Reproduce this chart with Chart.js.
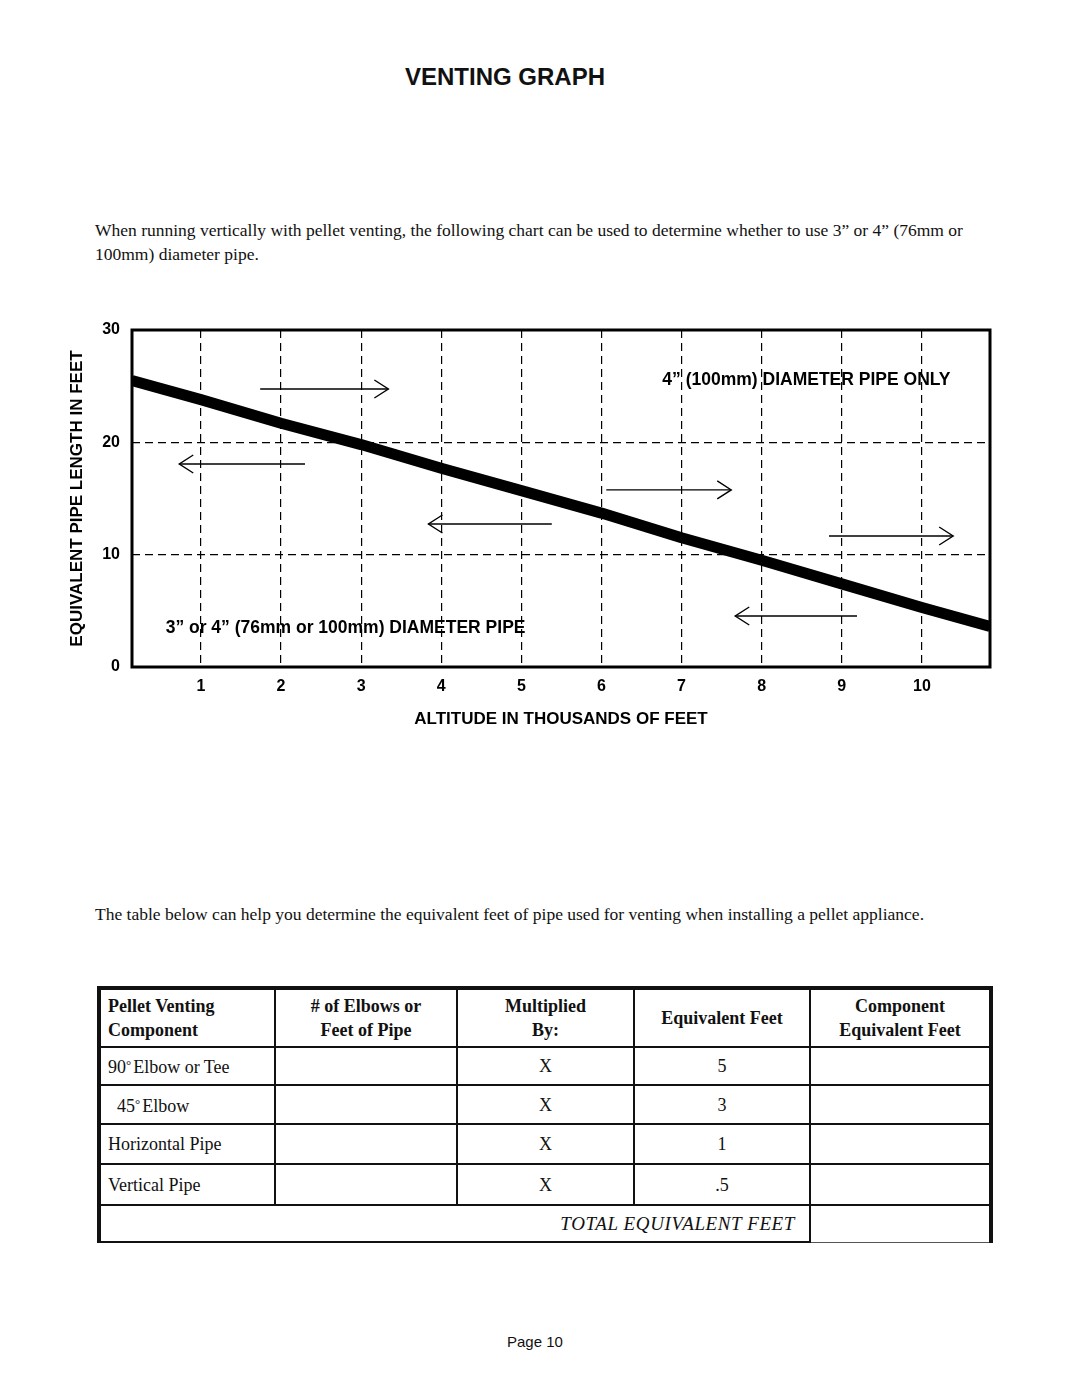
<!DOCTYPE html>
<html>
<head>
<meta charset="utf-8">
<script src="https://cdn.jsdelivr.net/npm/chart.js@4.4.1/dist/chart.umd.min.js"></script>
<style>
html,body{margin:0;padding:0;background:#fff;}
body{width:1080px;height:1397px;position:relative;overflow:hidden;color:#111;}
.abs{position:absolute;white-space:nowrap;}
#title{left:405px;top:62px;font:bold 24px "Liberation Sans",Arial,sans-serif;line-height:30px;}
.para{font:17.5px "Liberation Serif","Times New Roman",serif;line-height:24px;}
#p1{left:95px;top:218px;}
#p2{left:95px;top:902px;}
#footer{left:507px;top:1333px;font:15px "Liberation Sans",Arial,sans-serif;line-height:18px;}
#chartWrap{position:absolute;left:40px;top:300px;width:960px;height:460px;}
#tbl{position:absolute;left:97px;top:986px;border-collapse:collapse;table-layout:fixed;width:892px;font:18px "Liberation Serif","Times New Roman",serif;color:#111;}
#tbl td{border:2.5px solid #111;padding:0;text-align:center;vertical-align:middle;line-height:24px;white-space:nowrap;}
#tbl td.l{text-align:left;padding-left:7px;}
#tbl tr.hdr td{font-weight:bold;}
#tbl tr:first-child td{border-top:4px solid #111;}
#tbl td:first-child{border-left:4px solid #111;}
#tbl td:last-child{border-right:4px solid #111;}
#tbl td.tot{text-align:right;padding-right:14px;font-style:italic;font-size:19px;letter-spacing:0.6px;border-bottom:2px solid #111;}
#tbl td.last{border-bottom:1px solid #555;}
.deg{font-size:13px;vertical-align:4px;margin-right:2px;}
</style>
</head>
<body>
<div id="title" class="abs">VENTING GRAPH</div>
<div id="p1" class="abs para">When running vertically with pellet venting, the following chart can be used to determine whether to use 3” or 4” (76mm or<br>100mm) diameter pipe.</div>

<div id="chartWrap"><canvas id="chart" width="960" height="460"></canvas></div>

<div id="p2" class="abs para">The table below can help you determine the equivalent feet of pipe used for venting when installing a pellet appliance.</div>

<table id="tbl">
<colgroup><col style="width:176px"><col style="width:182px"><col style="width:177px"><col style="width:176px"><col style="width:181px"></colgroup>
<tr class="hdr" style="height:59px"><td class="l">Pellet Venting<br>Component</td><td>#&nbsp;of Elbows or<br>Feet of Pipe</td><td>Multiplied<br>By:</td><td>Equivalent Feet</td><td>Component<br>Equivalent Feet</td></tr>
<tr style="height:38px"><td class="l">90<span class="deg">°</span>Elbow or Tee</td><td></td><td>X</td><td>5</td><td></td></tr>
<tr style="height:39px"><td class="l">&nbsp;&nbsp;45<span class="deg">°</span>Elbow</td><td></td><td>X</td><td>3</td><td></td></tr>
<tr style="height:40px"><td class="l">Horizontal Pipe</td><td></td><td>X</td><td>1</td><td></td></tr>
<tr style="height:41px"><td class="l">Vertical Pipe</td><td></td><td>X</td><td>.5</td><td></td></tr>
<tr style="height:37px"><td colspan="4" class="tot">TOTAL EQUIVALENT FEET</td><td class="last"></td></tr>
</table>

<div id="footer" class="abs">Page 10</div>

<script>
// ---- data ----
const altitudeTicks = [1, 2, 3, 4, 5, 6, 7, 8, 9, 10];
const lengthTicks = [0, 10, 20, 30];
const altitude = [0.14, 1, 2, 3, 4, 5, 6, 7, 8, 9, 10, 10.85];
const pipeLength = [25.5, 23.8, 21.7, 19.8, 17.7, 15.7, 13.7, 11.5, 9.5, 7.4, 5.3, 3.6];
const arrowFromX = [1.74, 2.30, 5.38, 6.06, 8.84, 9.19];
const arrowToX   = [3.34, 0.73, 3.84, 7.62, 10.39, 7.67];
const arrowY     = [24.75, 18.07, 12.73, 15.76, 11.66, 4.54];
const regionText = ['4” (100mm) DIAMETER PIPE ONLY', '3” or 4” (76mm or 100mm) DIAMETER PIPE'];
const regionX = [6.76, 0.56];
const regionY = [25.55, 3.47];

const FONT = '"Liberation Sans", Arial, sans-serif';

const datasets = [{
  data: altitude.map((x, i) => ({x, y: pipeLength[i]})),
  borderColor: '#000', borderWidth: 11, pointRadius: 0, tension: 0,
  borderCapStyle: 'butt', borderJoinStyle: 'round', clip: 0, fill: false
}];
arrowY.forEach((y, i) => {
  datasets.push({
    data: [{x: arrowFromX[i], y}, {x: arrowToX[i], y}],
    borderColor: '#000', borderWidth: 1.3, pointRadius: 0, tension: 0,
    clip: false, fill: false, isArrow: true
  });
});

const decor = {
  id: 'decor',
  afterDatasetsDraw(chart) {
    const ctx = chart.ctx;
    const xs = chart.scales.x, ys = chart.scales.y;
    ctx.save();
    chart.data.datasets.forEach((ds, i) => {
      if (!ds.isArrow) return;
      const pts = chart.getDatasetMeta(i).data;
      const p0 = pts[0], p1 = pts[1];
      const dir = Math.sign(p1.x - p0.x) || 1;
      ctx.strokeStyle = '#000';
      ctx.lineWidth = 1.4;
      ctx.beginPath();
      ctx.moveTo(p1.x - dir * 14, p1.y - 9);
      ctx.lineTo(p1.x, p1.y);
      ctx.lineTo(p1.x - dir * 14, p1.y + 9);
      ctx.stroke();
    });
    ctx.fillStyle = '#000';
    ctx.font = 'bold 17.5px ' + FONT;
    ctx.textAlign = 'left';
    ctx.textBaseline = 'middle';
    regionText.forEach((t, i) => {
      ctx.fillText(t, xs.getPixelForValue(regionX[i]), ys.getPixelForValue(regionY[i]));
    });
    ctx.restore();
  },
  afterDraw(chart) {
    const {left, top, right, bottom} = chart.chartArea;
    const ctx = chart.ctx;
    ctx.save();
    ctx.strokeStyle = '#000';
    ctx.lineWidth = 3;
    ctx.setLineDash([]);
    ctx.strokeRect(left, top, right - left, bottom - top);
    ctx.restore();
  }
};

const tickFont = {family: FONT, size: 16, weight: 'bold'};
const titleFont = {family: FONT, size: 17, weight: 'bold'};

new Chart(document.getElementById('chart'), {
  type: 'line',
  data: {datasets},
  options: {
    responsive: false,
    animation: false,
    devicePixelRatio: 1,
    layout: {padding: {top: 30, right: 10, left: 0, bottom: 0}},
    plugins: {legend: {display: false}, tooltip: {enabled: false}},
    scales: {
      x: {
        type: 'linear', min: 0.14, max: 10.85,
        afterBuildTicks: s => { s.ticks = altitudeTicks.map(v => ({value: v})); },
        afterFit: s => { s.height = 93; },
        grid: {color: '#000', lineWidth: 1.2, drawTicks: false},
        border: {display: false, dash: [8, 5]},
        ticks: {padding: 10, color: '#000', font: tickFont, maxRotation: 0, autoSkip: false},
        title: {display: true, text: 'ALTITUDE IN THOUSANDS OF FEET', color: '#000', font: titleFont, padding: {top: 0, bottom: 30}}
      },
      y: {
        type: 'linear', min: 0, max: 30,
        afterBuildTicks: s => { s.ticks = lengthTicks.map(v => ({value: v})); },
        afterFit: s => { s.width = 92; },
        grid: {color: '#000', lineWidth: 1.2, drawTicks: false},
        border: {display: false, dash: [8, 5]},
        ticks: {padding: 12, color: '#000', font: tickFont},
        title: {display: true, text: 'EQUIVALENT PIPE LENGTH IN FEET', color: '#000', font: titleFont, padding: {top: 27, bottom: 0}}
      }
    }
  },
  plugins: [decor]
});
</script>
</body>
</html>
